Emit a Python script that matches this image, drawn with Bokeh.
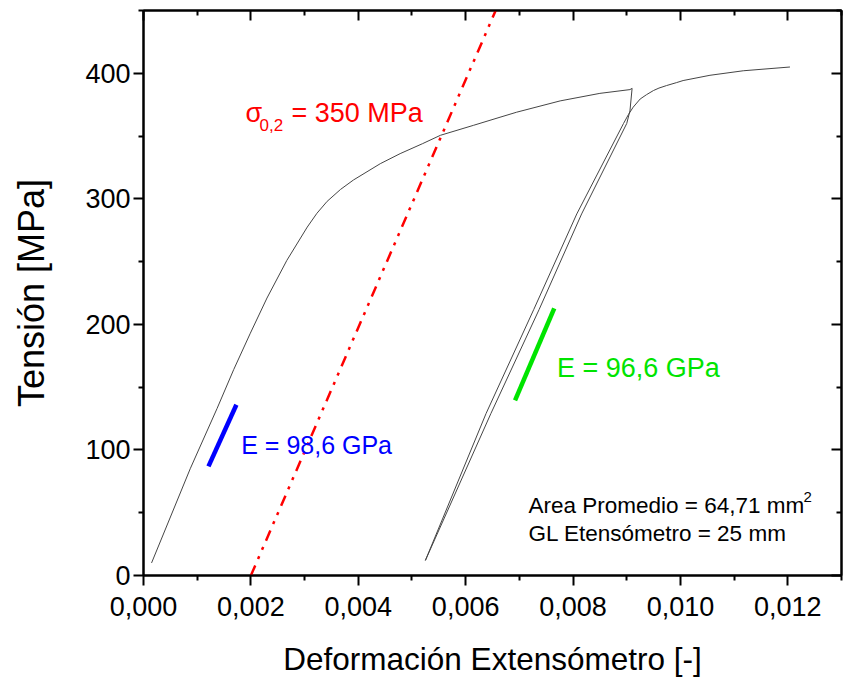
from bokeh.plotting import figure
from bokeh.models import Range1d, FixedTicker, LinearAxis, CustomJSTickFormatter
from bokeh.core.properties import value
from bokeh.embed import file_html
from bokeh.resources import INLINE

FONT = "Liberation Sans"

# ---- data ----
load_strain = [0.00015, 0.00087, 0.00137, 0.00168, 0.00199, 0.00230, 0.00267, 0.00305,
               0.00323, 0.00342, 0.00367, 0.00391, 0.00441, 0.00478, 0.00520, 0.00553,
               0.00615, 0.00664, 0.00695, 0.00776, 0.00850, 0.00906, 0.00910]
load_stress = [10, 85, 133, 164, 193, 221, 251, 277.5, 288.5, 298, 307.5, 315, 328, 336,
               344, 350.6, 358.6, 365, 369, 378, 384, 387, 388]

unload_strain = [0.00910, 0.00906, 0.00900, 0.00816, 0.00737, 0.00647, 0.00525]
unload_stress = [388, 370, 360, 288, 212, 129, 12]

reload_strain = [0.00525, 0.00638, 0.00727, 0.00807, 0.00894, 0.00903, 0.00912, 0.00925,
                 0.00937, 0.00950, 0.00960, 0.00974, 0.00993, 0.01005, 0.01055, 0.01117,
                 0.01204]
reload_stress = [12, 129, 212, 288, 360, 367, 373, 379.5, 383, 386.3, 388.2, 390.2, 392.6,
                 394.2, 398.4, 402, 405]

offset_strain = [0.0020, 0.0066]
offset_stress = [0, 454]

e1_strain = [0.00121, 0.00173]
e1_stress = [86.9, 136]
e2_strain = [0.00692, 0.00765]
e2_stress = [139.4, 212.7]

x_ticks = [0.000, 0.002, 0.004, 0.006, 0.008, 0.010, 0.012]
x_minor = [0.001, 0.003, 0.005, 0.007, 0.009, 0.011, 0.013]
y_ticks = [0, 100, 200, 300, 400]
y_minor = [50, 150, 250, 350, 450]

sigma_label = "\u03c3"
sigma_sub = "0,2"
sigma_rest = "= 350 MPa"
e1_label = "E = 98,6 GPa"
e2_label = "E = 96,6 GPa"
info_line1 = "Area Promedio = 64,71 mm"
info_sup = "2"
info_line2 = "GL Etens\u00f3metro = 25 mm"
x_title = "Deformaci\u00f3n Extens\u00f3metro [-]"
y_title = "Tensi\u00f3n [MPa]"

# ---- figure ----
p = figure(width=843, height=684, x_range=Range1d(0, 0.013), y_range=Range1d(0, 450),
           output_backend="svg", toolbar_location=None,
           min_border_left=143, min_border_right=2, min_border_top=10, min_border_bottom=109)
p.grid.visible = False
p.outline_line_color = "black"
p.outline_line_width = 2
p.background_fill_color = "white"
p.border_fill_color = "white"

xt = FixedTicker(ticks=x_ticks, minor_ticks=x_minor)
yt = FixedTicker(ticks=y_ticks, minor_ticks=y_minor)
xfmt = CustomJSTickFormatter(code="return tick.toFixed(3).replace('.', ',');")

def base_style(ax):
    ax.axis_line_width = 2
    ax.axis_line_color = "black"
    ax.major_tick_line_width = 2
    ax.minor_tick_line_width = 2
    ax.major_tick_line_color = "black"
    ax.minor_tick_line_color = "black"

xa = p.xaxis[0]
xa.ticker = xt
xa.formatter = xfmt
base_style(xa)
xa.major_tick_out = 10
xa.major_tick_in = 0
xa.minor_tick_out = 5
xa.minor_tick_in = 0
xa.major_label_text_font = FONT
xa.major_label_text_font_size = "27px"
xa.major_label_text_color = "black"
xa.major_label_standoff = 11
xa.axis_label = x_title
xa.axis_label_text_font = FONT
xa.axis_label_text_font_size = "31.5px"
xa.axis_label_text_font_style = "normal"
xa.axis_label_text_color = "black"
xa.axis_label_standoff = 22

ya = p.yaxis[0]
ya.ticker = yt
base_style(ya)
ya.major_tick_out = 10
ya.major_tick_in = 0
ya.minor_tick_out = 5
ya.minor_tick_in = 0
ya.major_label_text_font = FONT
ya.major_label_text_font_size = "27px"
ya.major_label_text_color = "black"
ya.major_label_standoff = 3
ya.axis_label = y_title
ya.axis_label_text_font = FONT
ya.axis_label_text_font_size = "36px"
ya.axis_label_text_font_style = "normal"
ya.axis_label_text_color = "black"
ya.axis_label_standoff = 30

blank = CustomJSTickFormatter(code="return '';")
top = LinearAxis(ticker=FixedTicker(ticks=x_ticks, minor_ticks=x_minor), formatter=blank)
right = LinearAxis(ticker=FixedTicker(ticks=y_ticks, minor_ticks=y_minor), formatter=blank)
for ax in (top, right):
    base_style(ax)
    ax.major_tick_out = 0
    ax.major_tick_in = 10
    ax.minor_tick_out = 0
    ax.minor_tick_in = 5
    ax.major_label_text_font_size = "0px"
    ax.major_label_standoff = 0
p.add_layout(top, "above")
p.add_layout(right, "right")

# ---- curves ----
curve_color = "#454545"
p.line(load_strain, load_stress, line_color=curve_color, line_width=1)
p.line(unload_strain, unload_stress, line_color=curve_color, line_width=1)
p.line(reload_strain, reload_stress, line_color=curve_color, line_width=1)

p.line(offset_strain, offset_stress, line_color="#ff0000", line_width=2.5,
       line_dash="11 7 3 7 3 7")
p.line(e1_strain, e1_stress, line_color="#0000ff", line_width=4.5)
p.line(e2_strain, e2_stress, line_color="#00e400", line_width=4.5)

# ---- annotations ----
sig_x, sig_y = 0.0019, 368.0
p.text([sig_x], [sig_y], text=[sigma_label], text_font=value(FONT), text_font_size=value("27px"),
       text_color="#ff0000", text_baseline="alphabetic", text_align="left")
p.text([sig_x], [sig_y], text=[sigma_sub], text_font=value(FONT), text_font_size=value("17px"),
       text_color="#ff0000", text_baseline="alphabetic", text_align="left",
       x_offset=14, y_offset=12)
p.text([sig_x], [sig_y], text=[sigma_rest], text_font=value(FONT), text_font_size=value("27px"),
       text_color="#ff0000", text_baseline="alphabetic", text_align="left", x_offset=46)

p.text([0.00182], [103.6], text=[e1_label], text_font=value(FONT), text_font_size=value("25px"),
       text_color="#0000ff", text_baseline="alphabetic", text_align="left")
p.text([0.00770], [165.5], text=[e2_label], text_font=value(FONT), text_font_size=value("27px"),
       text_color="#00e400", text_baseline="alphabetic", text_align="left")

info_x = 0.00717
p.text([info_x], [55.8], text=[info_line1], text_font=value(FONT), text_font_size=value("22.5px"),
       text_color="black", text_baseline="alphabetic", text_align="left")
p.text([info_x], [62.4], text=[info_sup], text_font=value(FONT), text_font_size=value("15px"),
       text_color="black", text_baseline="alphabetic", text_align="left", x_offset=275)
p.text([info_x], [33.2], text=[info_line2], text_font=value(FONT), text_font_size=value("22.5px"),
       text_color="black", text_baseline="alphabetic", text_align="left")

open("out.html", "w").write(file_html(p, INLINE))
